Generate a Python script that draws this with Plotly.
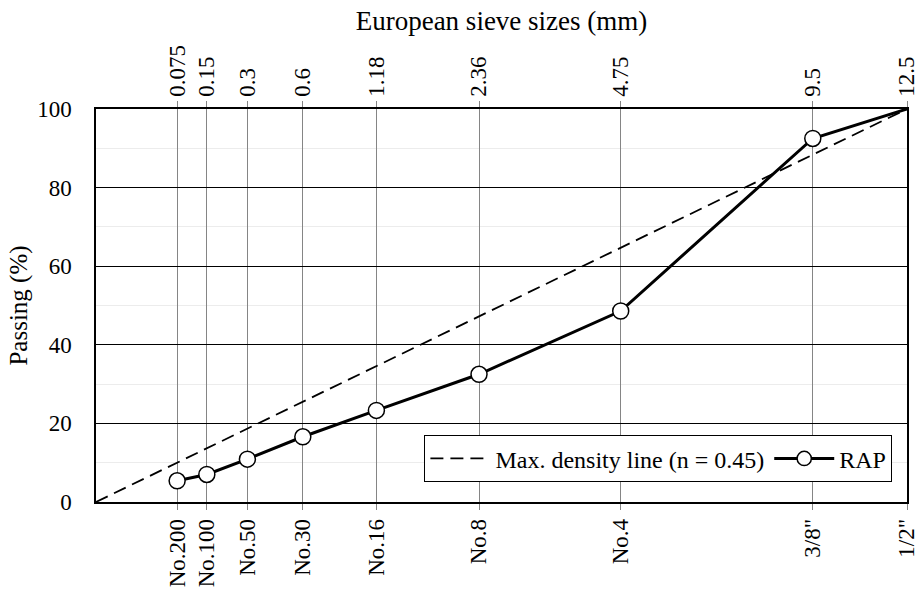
import plotly.graph_objects as go

# ---- data ----
sieve_mm = [0.075, 0.15, 0.3, 0.6, 1.18, 2.36, 4.75, 9.5, 12.5]
sieve_mm_labels = ["0.075", "0.15", "0.3", "0.6", "1.18", "2.36", "4.75", "9.5", "12.5"]
sieve_us_labels = ["No.200", "No.100", "No.50", "No.30", "No.16", "No.8", "No.4", "3/8\"", "1/2\""]
rap_passing = [5.4, 7.0, 10.9, 16.6, 23.3, 32.5, 48.6, 92.5, 100.0]
maxden_size = [0.0, 12.5]
maxden_passing = [0.0, 100.0]
n_exp = 0.45
y_ticks = [0, 20, 40, 60, 80, 100]

def pw(v):
    return [d ** n_exp for d in v]

xs = pw(sieve_mm)
xmax = 12.5 ** n_exp
FONT = "Liberation Serif"

fig = go.Figure()
fig.add_trace(go.Scatter(
    x=pw(maxden_size), y=maxden_passing, mode="lines",
    name="Max. density line (n = 0.45)",
    line=dict(color="black", width=1.8, dash="13px,7px"),
))
fig.add_trace(go.Scatter(
    x=xs, y=rap_passing, mode="lines+markers", name="RAP",
    line=dict(color="black", width=3),
    marker=dict(symbol="circle", size=[16] * 8 + [0], color="#ffffff", opacity=1,
                line=dict(color="black", width=1.5)),
))
# invisible trace to anchor top axis
fig.add_trace(go.Scatter(x=[0, xmax], y=[0, 0], xaxis="x2", mode="lines",
                         line=dict(width=0), showlegend=False, hoverinfo="skip"))

fig.update_layout(
    width=921, height=594,
    margin=dict(l=96, r=14, t=109, b=92),
    paper_bgcolor="white", plot_bgcolor="white",
    font=dict(family=FONT, size=24, color="black"),
    showlegend=True,
    legend=dict(orientation="h", x=0.982, y=0.05, xanchor="right", yanchor="bottom",
                bgcolor="white", bordercolor="black", borderwidth=1,
                font=dict(family=FONT, size=24), tracegroupgap=0,
                itemwidth=60),
    xaxis=dict(
        range=[0, xmax], tickmode="array", tickvals=xs, ticktext=sieve_us_labels,
        tickangle=-90, showgrid=True, gridcolor="#858585", gridwidth=1,
        ticks="outside", ticklen=6, tickcolor="#858585",
        showline=True, linecolor="black", linewidth=1.5, mirror=False,
        zeroline=False, tickfont=dict(family=FONT, size=23), automargin=False,
    ),
    xaxis2=dict(
        range=[0, xmax], overlaying="x", side="top", tickmode="array",
        tickvals=xs, ticktext=sieve_mm_labels, tickangle=-90,
        showgrid=False, ticks="outside", ticklen=6, tickcolor="#858585",
        showline=True, linecolor="black", linewidth=1.5, zeroline=False,
        tickfont=dict(family=FONT, size=23), automargin=False,
        title=dict(text="European sieve sizes (mm)", font=dict(family=FONT, size=27), standoff=6),
    ),
    yaxis=dict(
        range=[0, 100], tickmode="array", tickvals=y_ticks,
        showgrid=True, gridcolor="black", gridwidth=1.3,
        minor=dict(dtick=10, showgrid=True, gridcolor="#ececec", gridwidth=1),
        showline=True, linecolor="black", linewidth=1.5, mirror=True,
        zeroline=False, ticks="", ticklabelstandoff=18, automargin=False,
        tickfont=dict(family=FONT, size=23),
        title=dict(text="Passing (%)", font=dict(family=FONT, size=25), standoff=2),
    ),
)

fig.write_html("out.html")
